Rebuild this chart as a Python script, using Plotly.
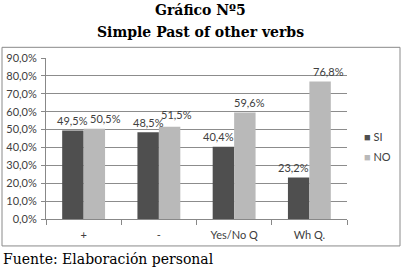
import plotly.graph_objects as go

categories = ["+", "-", "Yes/No Q", "Wh Q."]
si_values = [0.495, 0.485, 0.404, 0.232]
no_values = [0.505, 0.515, 0.596, 0.768]
series_names = ["SI", "NO"]
series_colors = ["#4f4f4f", "#b9b9b9"]
title_lines = ["Gráfico Nº5", "Simple Past of other verbs"]
footer = "Fuente: Elaboración personal"

# manual label nudges (pixels) as placed in the original chart
si_label_dx = [0, 0, -5, -5]
no_label_dx = [11, 7, 5, 8]
no_label_dy = [10, 12, 10, 10]

W, H = 401, 271
L, R, T, B = 46, 347, 57.7, 219
BARGAP = 0.43

def px(x):
    return (x - L) / (R - L)

def py(y):
    return (B - y) / (B - T)

font_fam = "Liberation Sans Narrow, Lato, Liberation Sans, sans-serif"
tick_font = dict(family=font_fam, size=11, color="#404040")
serif = "DejaVu Serif, Liberation Serif, serif"

cat_w = (R - L) / len(categories)
bar_off = (1 - BARGAP) * cat_w / 4

fig = go.Figure()
for name, vals, col in zip(series_names, [si_values, no_values], series_colors):
    fig.add_trace(go.Bar(x=categories, y=vals, name=name, showlegend=False,
                         marker=dict(color=col, line=dict(width=0))))

annotations = []
for c, v, dx in zip(categories, si_values, si_label_dx):
    annotations.append(dict(x=c, y=v, text=f"{v*100:.1f}%".replace(".", ","),
                            xshift=-bar_off + dx, yshift=10, showarrow=False,
                            xanchor="center", yanchor="middle", font=tick_font))
for c, v, dx, dy in zip(categories, no_values, no_label_dx, no_label_dy):
    annotations.append(dict(x=c, y=v, text=f"{v*100:.1f}%".replace(".", ","),
                            xshift=bar_off + dx, yshift=dy, showarrow=False,
                            xanchor="center", yanchor="middle", font=tick_font))

# legend drawn as text entries
for i, (name, col) in enumerate(zip(series_names, series_colors)):
    annotations.append(dict(xref="paper", yref="paper", x=px(362), y=py(136.5 + 20 * i),
                            text=f"<span style='color:{col}'>■</span> {name}",
                            showarrow=False, xanchor="left", yanchor="middle",
                            font=tick_font))

annotations += [
    dict(text="<b>" + title_lines[0] + "</b>", xref="paper", yref="paper",
         x=px(200), y=py(10), xanchor="center", yanchor="middle", showarrow=False,
         font=dict(family=serif, size=14, color="#000")),
    dict(text="<b>" + title_lines[1] + "</b>", xref="paper", yref="paper",
         x=px(200), y=py(32), xanchor="center", yanchor="middle", showarrow=False,
         font=dict(family=serif, size=14, color="#000")),
    dict(text=footer, xref="paper", yref="paper",
         x=px(1), y=py(259), xanchor="left", yanchor="middle", showarrow=False,
         font=dict(family=serif, size=14, color="#000")),
]

fig.update_layout(
    width=W, height=H,
    margin=dict(l=L, r=W - R, t=T, b=H - B, pad=0, autoexpand=False),
    paper_bgcolor="white", plot_bgcolor="white",
    separators=",.",
    barmode="group", bargap=BARGAP, bargroupgap=0,
    showlegend=False,
    xaxis=dict(showgrid=False, showline=True, linecolor="#888888", linewidth=1,
               ticks="outside", tickson="boundaries", ticklen=5, tickcolor="#888888",
               tickfont=tick_font, ticklabelstandoff=6, automargin=False, fixedrange=True),
    yaxis=dict(range=[0, 0.9], dtick=0.1, tickformat=".1%",
               showgrid=True, gridcolor="#8c8c8c", gridwidth=1,
               showline=True, linecolor="#888888", linewidth=1,
               ticks="outside", ticklen=4, tickcolor="#888888",
               tickfont=tick_font, ticklabelstandoff=2, automargin=False,
               zeroline=False, fixedrange=True),
    shapes=[dict(type="rect", xref="paper", yref="paper",
                 x0=px(2), x1=px(400), y0=py(246), y1=py(47),
                 line=dict(color="#8a8a8a", width=1), fillcolor="rgba(0,0,0,0)",
                 layer="below")],
    annotations=annotations,
)

fig.write_html("out.html")
